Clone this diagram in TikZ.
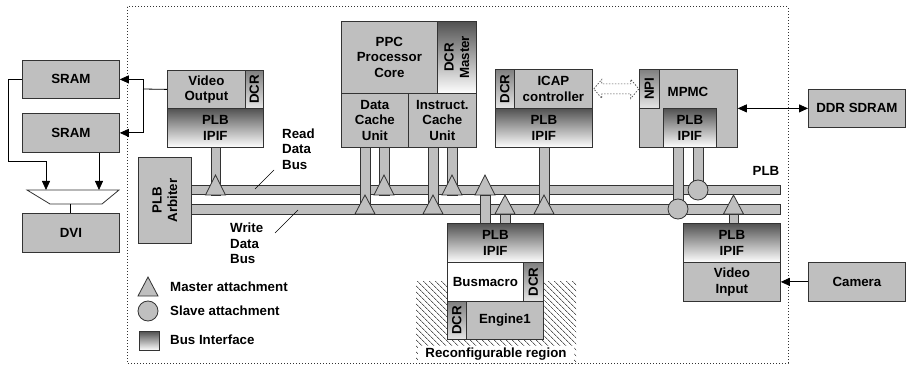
\documentclass[tikz,border=0pt]{standalone}
\usepackage{fontspec}
\setmainfont{Liberation Sans}
\usetikzlibrary{arrows.meta,patterns.meta,calc}
\begin{document}
\begin{tikzpicture}[x=1pt,y=-1pt,
 every node/.style={font=\bfseries\fontsize{13.3}{15.5}\selectfont, inner sep=0pt},
 lc/.style={draw=black!80, line width=0.8pt},
 blk/.style={lc, fill=gray!50, anchor=north west},
 ipif/.style={lc, top color=black!68, bottom color=white, anchor=north west, align=center},
 dcrbox/.style={lc, top color=black!50, bottom color=white!90!black, anchor=north west},
 bus/.style={lc, fill=gray!50, anchor=north west},
 att/.style={lc, fill=gray!50},
 conn/.style={draw=black, line width=0.8pt},
 tip/.style={-{Triangle[length=9pt,width=8pt]}},
 dtip/.style={{Triangle[length=9pt,width=8pt]}-{Triangle[length=9pt,width=8pt]}},
]
\newcommand\mtri[3]{\draw[att] (#1-10,#3) -- (#1+10,#3) -- (#1,#2) -- cycle;}
\useasboundingbox (0,0) rectangle (908,366);

% frame
\draw[black!80, line width=1pt, dash pattern=on 1pt off 2pt] (127,7) rectangle (788,363);

% reconfigurable region
\path[pattern={Lines[angle=-45,distance=4pt,line width=0.6pt]}] (416,282) rectangle (576,363);
\node[fill=white, minimum width=156, minimum height=17] (rr) at (496,354) {Reconfigurable region};

% left side
\node[blk, minimum width=97, minimum height=38] (sram1) at (22,60) {SRAM};
\node[blk, minimum width=97, minimum height=39] (sram2) at (22,113) {SRAM};
\node[blk, minimum width=97, minimum height=39] (dvi) at (22,213) {DVI};
\draw[lc, fill=white] (27,190) -- (119,190) -- (102,204) -- (50,204) -- cycle;
\coordinate (m1) at (46,190);
\coordinate (m2) at (99,190);
\coordinate (mo) at (70.5,204);
\draw[conn,tip] (sram1.west) -- ++(-14,0) |- ($(m1)+(0,-29)$) -- (m1);
\draw[conn,tip] (m2 |- sram2.south) -- (m2);
\draw[conn] (mo) -- (mo |- dvi.north);

% buses
\node[bus, minimum width=589, minimum height=9] (rbus) at (191,185) {};
\node[bus, minimum width=589, minimum height=10] (wbus) at (191,204) {};
\node[blk, minimum width=53, minimum height=86] (arb) at (138,157) {};
\node[rotate=90, align=center] at (arb) {PLB\\Arbiter};
\node (plbl) at (766,171) {PLB};

% stems and attachments
\draw[att] (211,147) rectangle (220,195); \mtri{215.5}{175}{195}
\draw[att] (360,147) rectangle (370,214); \mtri{365}{195}{214}
\draw[att] (379,147) rectangle (389,195); \mtri{384}{175}{195}
\draw[att] (428,147) rectangle (438,214); \mtri{433}{195}{214}
\draw[att] (447,147) rectangle (457,195); \mtri{452}{175}{195}
\draw[att] (539,147) rectangle (549,214); \mtri{544}{195}{214}
\draw[att] (480,223) rectangle (490,195); \mtri{485}{175}{195}
\draw[att] (500,223) rectangle (510,214); \mtri{505}{195}{214}
\draw[att] (673,147) rectangle (683,209); \draw[att] (678,209) circle[radius=10];
\draw[att] (693,147) rectangle (703,190); \draw[att] (698,190) circle[radius=10];
\draw[att] (729,223) rectangle (738,214); \mtri{733.5}{195}{214}

% video output
\node[blk, minimum width=78, minimum height=38, align=center] (vo) at (167,70) {Video\\Output};
\node[dcrbox, minimum width=18, minimum height=38] (vodcr) at (245,70) {};
\node[rotate=90] at (vodcr) {DCR};
\node[ipif, minimum width=96, minimum height=39] (voipif) at (167,108) {PLB\\IPIF};
\coordinate (vj) at (143,89);
\draw[conn] (vo.west) -- (vj);
\draw[conn,tip] (vj) |- (sram1.east);
\draw[conn,tip] (vj) |- (sram2.east);

% PPC
\node[blk, minimum width=96, minimum height=72, align=center] (ppc) at (341,21) {PPC\\Processor\\Core};
\node[ipif, minimum width=39, minimum height=72] (dcrm) at (437,21) {};
\node[rotate=90, align=center] at (dcrm) {DCR\\Master};
\node[blk, minimum width=67, minimum height=54, align=center] (dcu) at (341,93) {Data\\Cache\\Unit};
\node[blk, minimum width=68, minimum height=54, align=center] (icu) at (408,93) {Instruct.\\Cache\\Unit};

% ICAP
\node[dcrbox, minimum width=19, minimum height=39] (icapdcr) at (495,69) {};
\node[rotate=90] at (icapdcr) {DCR};
\node[blk, minimum width=78, minimum height=39, align=center] (icap) at (514,69) {ICAP\\controller};
\node[ipif, minimum width=97, minimum height=39] (icapipif) at (495,108) {PLB\\IPIF};

% MPMC
\node[blk, minimum width=98, minimum height=78] (mpmc) at (639,69) {};
\node (mpmct) at (688,92) {MPMC};
\node[dcrbox, minimum width=20, minimum height=39] (npi) at (639,69) {};
\node[rotate=90] at (npi) {NPI};
\node[ipif, minimum width=53, minimum height=39] (mpmcipif) at (663,108) {PLB\\IPIF};

% dotted double arrow ICAP <-> NPI
\draw[black!70, line width=0.7pt, dash pattern=on 1.5pt off 1.5pt]
  ([xshift=1]icap.east) -- ++(8,-9.5) -- ++(0,4.5) -- ++(29,0) -- ++(0,-4.5) -- ++(8,9.5)
  -- ++(-8,9.5) -- ++(0,-4.5) -- ++(-29,0) -- ++(0,4.5) -- cycle;

% DDR
\node[blk, minimum width=97, minimum height=38] (ddr) at (808,89) {DDR SDRAM};
\draw[conn,dtip] (mpmc.east) -- (ddr.west);

% Video input & camera
\node[ipif, minimum width=97, minimum height=39] (viipif) at (683,223) {PLB\\IPIF};
\node[blk, minimum width=97, minimum height=39, align=center] (vi) at (683,262) {Video\\Input};
\node[blk, minimum width=97, minimum height=39] (cam) at (808,262) {Camera};
\draw[conn,tip] (cam.west) -- (vi.east);

% Busmacro stack
\node[ipif, minimum width=96, minimum height=39] (bmipif) at (447,223) {PLB\\IPIF};
\node[lc, fill=white, anchor=north west, minimum width=76, minimum height=39] (bm) at (447,262) {Busmacro};
\node[dcrbox, minimum width=20, minimum height=39] (bmdcr) at (523,262) {};
\node[rotate=90] at (bmdcr) {DCR};
\node[dcrbox, minimum width=19, minimum height=38] (edcr) at (447,301) {};
\node[rotate=90] at (edcr) {DCR};
\node[blk, minimum width=77, minimum height=38] (eng) at (466,301) {Engine1};

% bus labels
\node[anchor=west, align=left] (rdl) at (282,149) {Read\\Data\\Bus};
\coordinate (rl1) at (274,170); \coordinate (rl2) at (255,189);
\draw[conn, line width=0.6pt] (rl1) -- (rl2);
\node[anchor=west, align=left] (wdl) at (230,243.5) {Write\\Data\\Bus};
\coordinate (wl1) at (298,210); \coordinate (wl2) at (275,233);
\draw[conn, line width=0.6pt] (wl1) -- (wl2);

% legend
\draw[att] (138,296) -- (158,296) -- (148,277) -- cycle;
\node[anchor=west] (lgm) at (170,287) {Master attachment};
\draw[att] (148,311) circle[radius=10];
\node[anchor=west] (lgs) at (170,311) {Slave attachment};
\node[ipif, minimum width=20, minimum height=19] (legbi) at (139,331) {};
\node[anchor=west] (lgb) at (170,340) {Bus Interface};
\end{tikzpicture}
\end{document}
